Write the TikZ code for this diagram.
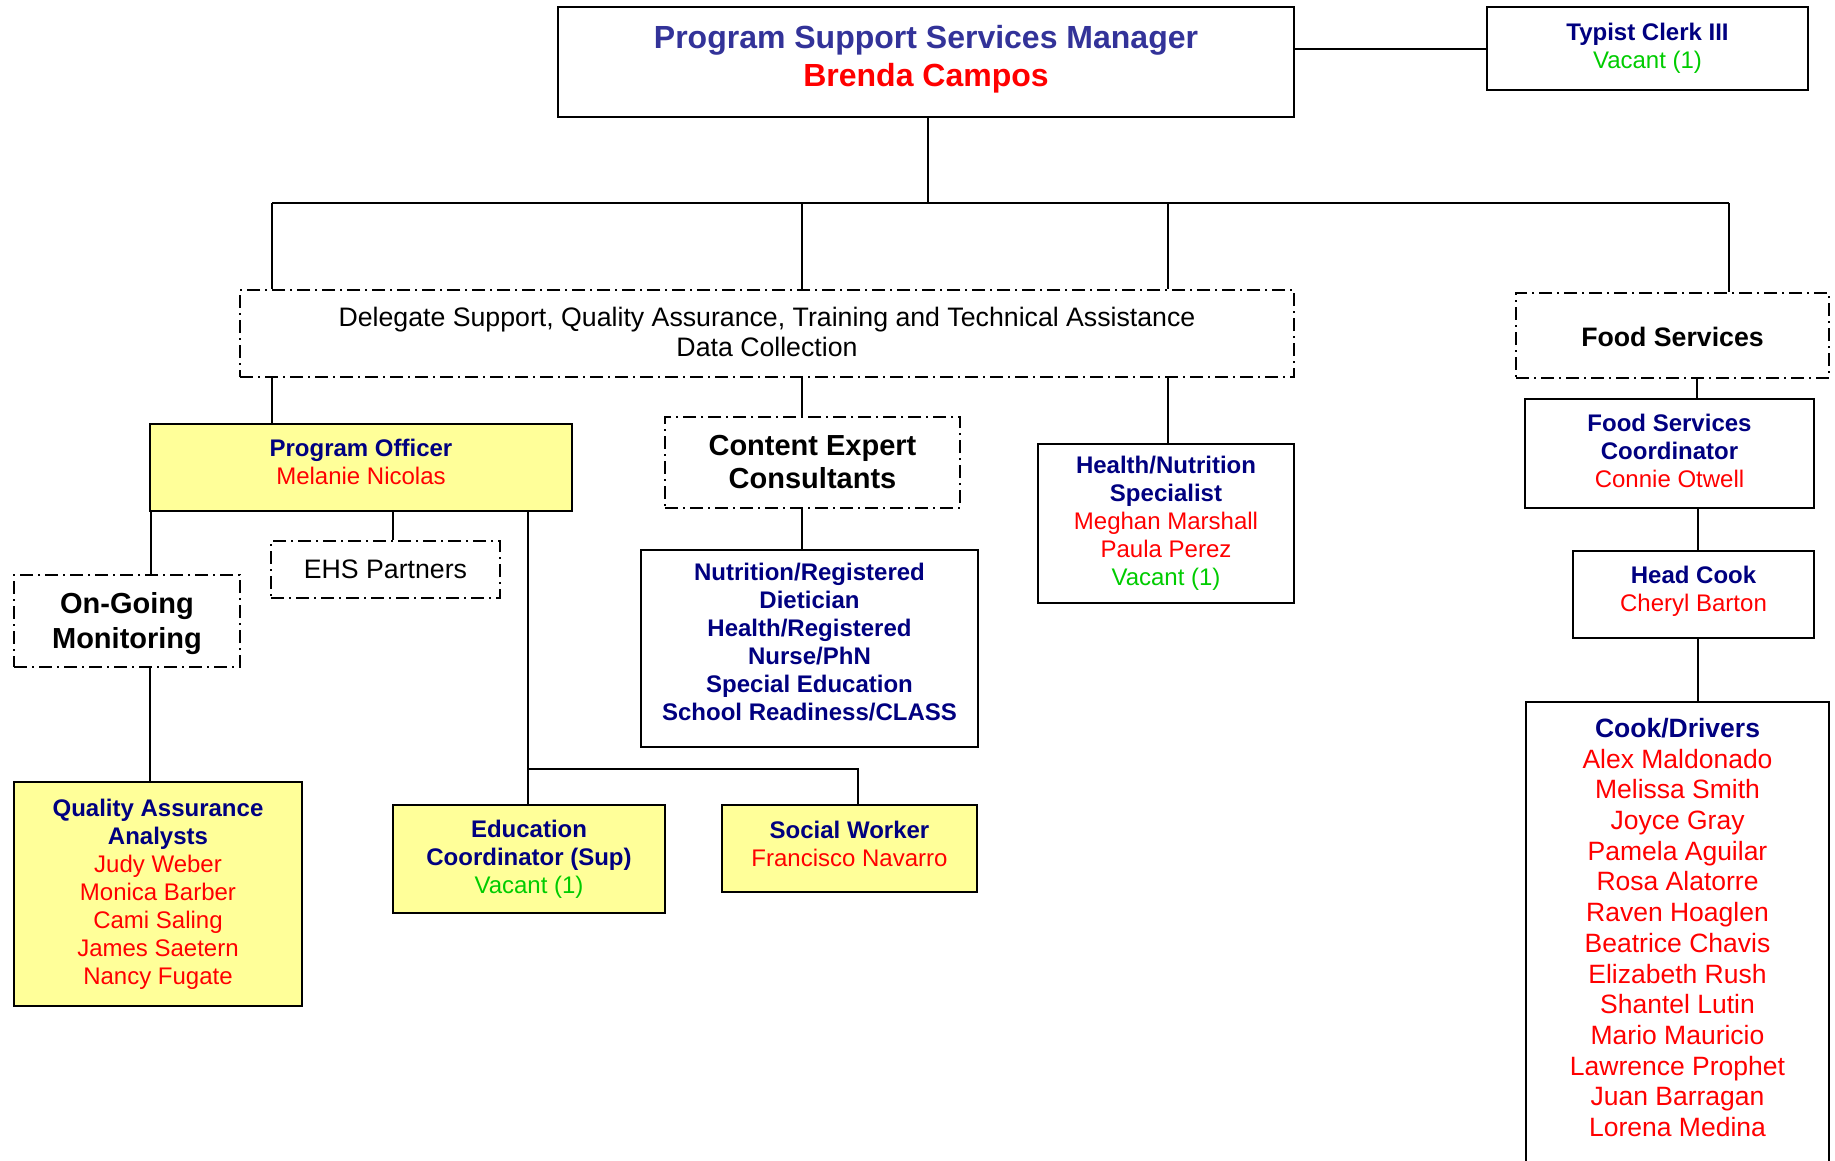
\documentclass[tikz,border=0pt]{standalone}
\usepackage{fontspec}
\setmainfont{Liberation Sans}
\definecolor{ttlblue}{RGB}{51,51,153}
\definecolor{navyc}{RGB}{0,0,128}
\definecolor{redc}{RGB}{255,0,0}
\definecolor{greenc}{RGB}{0,204,0}
\definecolor{yel}{RGB}{255,255,153}
\newcommand{\tl}[1]{{\color{navyc}\bfseries #1}}
\newcommand{\nm}[1]{{\color{redc}#1}}
\newcommand{\vc}[1]{{\color{greenc}#1}}
\newcommand{\dpt}[1]{\rule[-#1]{0pt}{#1}}
\newcommand{\htt}[1]{\rule{0pt}{#1}}
\tikzset{
  box/.style={draw, line width=2pt, align=center, inner sep=0pt, fill=white},
  ybox/.style={box, fill=yel},
  dbox/.style={box, dash pattern=on 13pt off 5pt on 2pt off 5pt},
  conn/.style={line width=2pt},
  f24/.style={font=\fontsize{24}{28}\selectfont},
  f26/.style={font=\fontsize{26.7}{30}\selectfont},
}
\begin{document}
\begin{tikzpicture}[x=1pt,y=-1pt]
\useasboundingbox[fill=white] (0,0) rectangle (1835,1160);
\clip (0,0) rectangle (1835,1160);

\coordinate (busL) at (272,203);
\coordinate (busM1) at (802,203);
\coordinate (busM) at (928,203);
\coordinate (busM2) at (1168,203);
\coordinate (busR) at (1729,203);
\coordinate (branch) at (528,769);
\coordinate (branchR) at (858,769);

% nodes
\node[box, font=\fontsize{32}{38}\selectfont\bfseries, minimum width=736, minimum height=110] (top) at (926,62)
  {{\color{ttlblue}Program Support Services Manager}\\
   {\color{redc}Brenda Campos}\dpt{12pt}};
\node[box, f24, minimum width=321, minimum height=83] (typist) at (1647.5,48.5)
  {\tl{Typist Clerk III}\\ \vc{Vacant (1)}};
\node[dbox, f26, minimum width=1054, minimum height=87] (deleg) at (767,333.5)
  {Delegate Support, Quality Assurance, Training and Technical Assistance\\ Data Collection\dpt{4pt}};
\node[dbox, f26, minimum width=313, minimum height=85] (food) at (1672.5,335.5)
  {\htt{23pt}\bfseries Food Services};
\node[ybox, f24, minimum width=422, minimum height=87] (po) at (361,467.5)
  {\tl{Program Officer}\\ \nm{Melanie Nicolas}\dpt{12pt}};
\node[dbox, font=\fontsize{29}{33}\selectfont\bfseries, minimum width=295, minimum height=91] (content) at (812.5,462.5)
  {Content Expert\\ Consultants};
\node[box, f24, minimum width=256, minimum height=159] (health) at (1166,523.5)
  {\tl{Health/Nutrition}\\ \tl{Specialist}\\ \nm{Meghan Marshall}\\ \nm{Paula Perez}\\ \vc{Vacant (1)}};
\node[box, f24, minimum width=337, minimum height=197] (nutr) at (809.5,648.5)
  {\tl{Nutrition/Registered}\\ \tl{Dietician}\\ \tl{Health/Registered}\\ \tl{Nurse/PhN}\\ \tl{Special Education}\\ \tl{School Readiness/CLASS}\dpt{13pt}};
\node[dbox, f26, minimum width=229, minimum height=57] (ehs) at (385.5,569.5)
  {EHS Partners};
\node[dbox, font=\fontsize{29}{35}\selectfont\bfseries, minimum width=226, minimum height=92] (ongoing) at (127,621)
  {\htt{26pt}On-Going\\ Monitoring};
\node[ybox, f24, minimum width=288, minimum height=224] (qa) at (158,894)
  {\tl{Quality Assurance}\\ \tl{Analysts}\\ \nm{Judy Weber}\\ \nm{Monica Barber}\\ \nm{Cami Saling}\\ \nm{James Saetern}\\ \nm{Nancy Fugate}};
\node[ybox, f24, minimum width=272, minimum height=108] (edu) at (529,859)
  {\tl{Education}\\ \tl{Coordinator (Sup)}\\ \vc{Vacant (1)}};
\node[ybox, f24, minimum width=255, minimum height=87] (social) at (849.5,848.5)
  {\tl{Social Worker}\\ \nm{Francisco Navarro}\dpt{10pt}};
\node[box, f24, minimum width=289, minimum height=109] (fsc) at (1669.5,453.5)
  {\tl{Food Services}\\ \tl{Coordinator}\\ \nm{Connie Otwell}\dpt{6pt}};
\node[box, f24, minimum width=241, minimum height=87] (headcook) at (1693.5,594.5)
  {\tl{Head Cook}\\ \nm{Cheryl Barton}\dpt{12pt}};
\node[box, minimum width=303, minimum height=490] (cooks) at (1677.5,947) {};
\node[anchor=north, align=center, inner sep=0pt, font=\fontsize{26.5}{30.7}\selectfont] (cooktext) at (1677.5,718)
  {\tl{Cook/Drivers}\\ \nm{Alex Maldonado}\\ \nm{Melissa Smith}\\ \nm{Joyce Gray}\\ \nm{Pamela Aguilar}\\
   \nm{Rosa Alatorre}\\ \nm{Raven Hoaglen}\\ \nm{Beatrice Chavis}\\ \nm{Elizabeth Rush}\\ \nm{Shantel Lutin}\\
   \nm{Mario Mauricio}\\ \nm{Lawrence Prophet}\\ \nm{Juan Barragan}\\ \nm{Lorena Medina}};

% connectors
\draw[conn] (typist.west) -- (typist.west -| top.east);
\draw[conn] (top.south -| busM) -- (busM);
\draw[conn] (busL) -- (busR);
\draw[conn] (busL) -- (busL |- deleg.north);
\draw[conn] (busM1) -- (busM1 |- deleg.north);
\draw[conn] (busM2) -- (busM2 |- deleg.north);
\draw[conn] (busR) -- (busR |- food.north);
\draw[conn] (deleg.south -| busL) -- (busL |- po.north);
\draw[conn] (deleg.south -| busM1) -- (busM1 |- content.north);
\draw[conn] (deleg.south -| busM2) -- (busM2 |- health.north);
\draw[conn] (content.south -| busM1) -- (busM1 |- nutr.north);
\draw[conn] (po.south -| 151,0) -- (ongoing.north -| 151,0);
\draw[conn] (po.south -| 393,0) -- (ehs.north -| 393,0);
\draw[conn] (po.south -| branch) -- (branch) -- (branchR) -- (branchR |- social.north);
\draw[conn] (branch) -- (branch |- edu.north);
\draw[conn] (ongoing.south -| 150,0) -- (qa.north -| 150,0);
\draw[conn] (food.south -| 1697,0) -- (fsc.north -| 1697,0);
\draw[conn] (fsc.south -| 1698,0) -- (headcook.north -| 1698,0);
\draw[conn] (headcook.south -| 1698,0) -- (cooks.north -| 1698,0);
\end{tikzpicture}
\end{document}
